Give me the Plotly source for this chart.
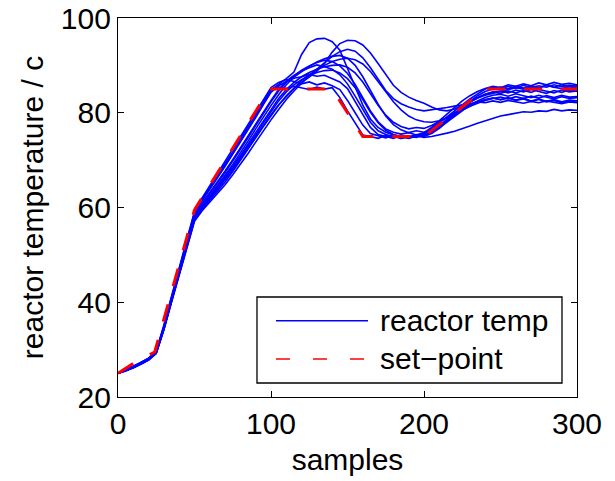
import plotly.graph_objects as go

# ---------------- data ----------------
samples = list(range(0, 301, 5))

sp_x = [0, 12, 24, 50, 99, 140, 160, 200, 240, 300]
sp_y = [25, 27.5, 29.5, 59.5, 85, 85, 75, 75, 85, 85]

c01 = [25.0, 25.6, 26.3, 27.1, 28.0, 29.5, 34.9, 41.0, 47.1, 53.0,
       58.9, 61.9, 64.2, 66.9, 69.3, 71.7, 74.5, 77.1, 79.5, 82.3,
       84.9, 85.4, 85.1, 85.6, 85.2, 84.9, 85.4, 85.0, 85.3, 83.2,
       80.4, 77.8, 75.3, 75.0, 74.6, 75.2, 74.8, 75.3, 74.7, 75.1,
       75.4, 76.6, 77.9, 79.1, 80.4, 81.6, 82.9, 84.0, 85.0, 85.4,
       85.1, 85.6, 85.2, 85.8, 85.3, 85.7, 85.4, 85.9, 85.5, 85.8,
       85.6]
c02 = [25.0, 25.7, 26.4, 27.3, 28.2, 29.7, 35.2, 41.3, 47.4, 53.3,
       59.2, 62.0, 64.6, 67.1, 69.7, 72.3, 74.9, 77.4, 80.1, 82.8,
       85.3, 86.4, 87.0, 86.6, 86.1, 86.5, 85.9, 86.3, 85.7, 84.9,
       82.6, 80.0, 77.4, 75.6, 75.1, 74.7, 75.3, 74.6, 74.9, 75.4,
       75.2, 75.9, 77.1, 78.5, 79.7, 80.9, 82.2, 83.1, 83.9, 84.4,
       84.1, 84.6, 84.2, 84.7, 84.3, 84.9, 84.5, 84.2, 84.8, 84.4,
       84.6]
c03 = [25.0, 25.6, 26.2, 27.0, 27.9, 29.4, 34.6, 40.7, 46.8, 52.7,
       58.6, 61.4, 63.8, 66.2, 68.7, 71.3, 73.8, 76.5, 79.0, 81.7,
       84.3, 85.7, 86.6, 87.3, 87.6, 88.1, 87.7, 87.9, 87.2, 86.5,
       85.1, 82.3, 79.4, 76.9, 75.4, 75.0, 74.6, 75.2, 74.8, 75.3,
       75.8, 76.9, 78.3, 79.8, 81.2, 82.5, 83.6, 84.5, 85.1, 85.6,
       85.3, 85.9, 85.6, 86.1, 85.7, 86.3, 85.9, 86.4, 86.0, 86.2,
       85.9]
c04 = [25.0, 25.5, 26.2, 27.0, 27.8, 29.3, 34.4, 40.5, 46.5, 52.3,
       58.3, 60.9, 63.1, 65.4, 67.7, 70.1, 72.6, 75.1, 77.7, 80.2,
       82.6, 84.9, 86.7, 87.9, 88.8, 89.5, 90.1, 89.7, 89.2, 88.0,
       86.1, 83.5, 80.6, 78.0, 76.2, 75.4, 75.0, 74.6, 75.1, 74.8,
       75.3, 75.9, 76.8, 78.0, 79.3, 80.5, 81.6, 82.5, 83.2, 83.7,
       83.9, 83.5, 84.0, 83.6, 83.2, 83.7, 83.3, 82.9, 83.4, 83.0,
       83.2]
c05 = [25.0, 25.6, 26.3, 27.1, 28.0, 29.5, 34.7, 40.8, 46.9, 52.8,
       58.7, 61.5, 63.9, 66.4, 68.9, 71.4, 74.0, 76.6, 79.2, 81.9,
       84.8, 86.0, 87.2, 88.6, 92.3, 94.8, 95.6, 95.7, 95.0, 93.2,
       89.5, 85.5, 81.6, 78.7, 76.9, 75.9, 75.3, 75.0, 74.7, 75.2,
       75.0, 75.6, 76.7, 78.1, 79.6, 81.0, 82.4, 83.6, 84.5, 85.0,
       85.4, 85.1, 85.6, 85.2, 85.7, 85.3, 85.8, 85.4, 85.1, 85.5,
       85.2]
c06 = [25.0, 25.7, 26.5, 27.3, 28.2, 29.6, 34.9, 40.9, 46.8, 52.5,
       58.2, 60.8, 63.0, 65.1, 67.4, 69.8, 72.2, 74.7, 77.3, 79.9,
       82.3, 84.6, 86.4, 87.8, 89.0, 89.9, 90.6, 91.1, 90.8, 89.9,
       88.3, 86.0, 83.2, 80.4, 78.1, 76.6, 75.9, 75.5, 75.8, 75.3,
       75.7, 76.3, 77.2, 78.4, 79.5, 80.6, 81.4, 82.1, 82.7, 83.1,
       82.8, 83.2, 82.7, 83.1, 82.5, 82.9, 82.4, 82.8, 82.3, 82.7,
       82.5]
c07 = [25.0, 25.6, 26.3, 27.2, 28.1, 29.5, 34.6, 40.4, 46.3, 52.0,
       57.9, 60.4, 62.5, 64.6, 66.8, 69.1, 71.5, 74.0, 76.6, 79.1,
       81.5, 83.8, 85.9, 87.5, 88.7, 89.8, 90.7, 91.4, 91.9, 92.1,
       91.5, 90.0, 87.6, 84.7, 81.8, 79.3, 77.5, 76.4, 75.8, 76.2,
       75.9, 76.5, 77.4, 78.6, 79.9, 81.1, 82.3, 83.2, 83.9, 84.3,
       84.6, 84.2, 84.8, 84.4, 84.9, 84.5, 84.1, 84.7, 84.3, 84.8,
       84.5]
c08 = [25.0, 25.5, 26.1, 26.9, 27.8, 29.2, 34.3, 40.2, 46.1, 51.8,
       57.6, 60.0, 62.1, 64.0, 66.1, 68.3, 70.6, 72.9, 75.3, 77.8,
       80.2, 82.5, 84.4, 85.9, 87.0, 87.9, 88.5, 88.9, 89.0, 88.4,
       87.2, 85.3, 82.8, 80.1, 77.9, 76.3, 75.4, 75.0, 74.6, 75.1,
       74.8, 75.0, 75.3, 75.7, 76.1, 76.6, 77.2, 77.8, 78.3, 78.8,
       79.3, 79.6, 79.9, 80.2, 80.1, 80.4, 80.3, 80.7, 80.4, 80.6,
       80.5]
c09 = [25.0, 25.6, 26.4, 27.2, 28.0, 29.4, 34.4, 40.2, 46.0, 51.6,
       57.3, 59.6, 61.5, 63.4, 65.4, 67.6, 69.9, 72.3, 74.7, 77.1,
       79.4, 81.6, 83.6, 85.3, 86.8, 88.0, 89.1, 90.0, 90.8, 91.3,
       91.5, 91.2, 90.3, 88.7, 86.6, 84.4, 82.3, 80.6, 79.3, 78.5,
       78.1, 78.0, 78.3, 78.9, 79.7, 80.6, 81.4, 82.0, 82.6, 83.0,
       83.3, 82.9, 83.4, 83.0, 83.5, 83.1, 83.6, 83.2, 83.7, 83.3,
       83.4]
c10 = [25.0, 25.7, 26.5, 27.3, 28.1, 29.5, 34.5, 40.3, 46.1, 51.7,
       57.5, 59.8, 61.8, 63.7, 65.7, 67.9, 70.2, 72.6, 75.0, 77.4,
       79.6, 81.7, 83.5, 85.1, 86.4, 87.5, 88.8, 90.4, 92.8, 94.6,
       95.3, 95.2, 94.3, 92.6, 90.4, 88.0, 85.8, 84.3, 83.3, 82.6,
       82.0, 81.2, 80.6, 80.4, 80.8, 81.6, 82.4, 83.1, 83.7, 84.1,
       84.5, 84.9, 85.3, 85.0, 85.6, 85.2, 85.8, 85.4, 85.9, 85.5,
       85.7]
c11 = [25.0, 25.5, 26.2, 27.0, 27.9, 29.3, 34.2, 40.0, 45.8, 51.4,
       57.1, 59.3, 61.1, 62.9, 64.8, 66.9, 69.1, 71.4, 73.8, 76.2,
       78.5, 80.7, 82.8, 84.6, 86.3, 87.8, 89.2, 90.6, 91.9, 92.9,
       93.4, 93.0, 91.6, 89.5, 87.0, 84.7, 83.0, 81.9, 81.2, 80.7,
       80.4, 80.6, 80.9, 81.1, 81.4, 81.6, 81.9, 82.3, 82.1, 82.5,
       82.2, 82.6, 82.3, 82.0, 82.4, 82.1, 82.5, 82.2, 81.9, 82.3,
       82.1]
c12 = [25.0, 25.6, 26.3, 27.1, 28.0, 29.4, 34.5, 40.5, 46.4, 52.1,
       57.8, 60.2, 62.3, 64.4, 66.5, 68.7, 71.0, 73.4, 75.9, 78.4,
       80.8, 83.0, 84.9, 86.4, 87.6, 88.5, 89.2, 89.7, 90.0, 90.1,
       89.6, 88.4, 86.5, 84.1, 81.6, 79.5, 78.0, 77.1, 76.6, 76.9,
       76.7, 77.3, 78.1, 79.0, 80.0, 80.9, 81.7, 82.3, 82.8, 83.1,
       82.7, 83.1, 82.6, 82.9, 82.4, 82.8, 82.3, 82.6, 82.1, 82.5,
       82.2]

runs = [c01, c02, c03, c04, c05, c06, c07, c08, c09, c10, c11, c12]

x_ticks = [0, 100, 200, 300]
y_ticks = [20, 40, 60, 80, 100]

# ---------------- figure ----------------
FONT = "Liberation Sans, Arial, Helvetica, sans-serif"
FS = 30
fig = go.Figure()

for run in runs:
    fig.add_trace(go.Scatter(
        x=samples, y=run, mode="lines",
        line=dict(color="#0000ff", width=1.6),
        name="reactor temp", showlegend=False, hoverinfo="skip"))

fig.add_trace(go.Scatter(
    x=sp_x, y=sp_y, mode="lines",
    line=dict(color="#ff0000", width=3, dash="18px,19px"),
    name="set\u2212point", showlegend=False, hoverinfo="skip"))

axis_common = dict(
    showgrid=False, zeroline=False, showline=True, linecolor="black",
    linewidth=1.3, mirror="ticks", ticks="inside", ticklen=6,
    tickwidth=1, tickcolor="black", automargin=False,
    ticklabeloverflow="allow",
    tickfont=dict(family=FONT, size=FS, color="black"),
)

fig.update_xaxes(range=[0, 300], tickvals=x_ticks,
                 title=dict(text="samples", font=dict(family=FONT, size=FS, color="black"), standoff=9),
                 **axis_common)
fig.update_yaxes(range=[20, 100], tickvals=y_ticks,
                 title=dict(text="reactor temperature / c", font=dict(family=FONT, size=FS, color="black"), standoff=8),
                 **axis_common)

# legend box drawn manually to match MATLAB style
shapes = [
    dict(type="rect", xref="paper", yref="paper", x0=0.3028, x1=0.9673, y0=0.0369, y1=0.2639,
         line=dict(color="black", width=1.3), fillcolor="white", layer="above"),
    dict(type="line", xref="paper", yref="paper", x0=0.3442, x1=0.5447, y0=0.2013, y1=0.2013,
         line=dict(color="#0000ff", width=1.6), layer="above"),
    dict(type="line", xref="paper", yref="paper", x0=0.3442, x1=0.5447, y0=0.1003, y1=0.1003,
         line=dict(color="#ff0000", width=1.6, dash="14px,23px"), layer="above"),
]
annotations = [
    dict(text="reactor temp", xref="paper", yref="paper", x=0.5664, y=0.2013,
         xanchor="left", yanchor="middle", showarrow=False,
         font=dict(family=FONT, size=FS, color="black")),
    dict(text="set\u2212point", xref="paper", yref="paper", x=0.5664, y=0.1003,
         xanchor="left", yanchor="middle", showarrow=False,
         font=dict(family=FONT, size=FS, color="black")),
]

fig.update_layout(
    width=615, height=481,
    margin=dict(l=118, r=38, t=18, b=84),
    paper_bgcolor="white", plot_bgcolor="white",
    shapes=shapes, annotations=annotations,
    showlegend=False,
)

# remove the default 8px page margin so the figure sits at the window origin
fig.write_html("out.html", config={"displayModeBar": False},
               post_script="document.body.style.margin='0';")
